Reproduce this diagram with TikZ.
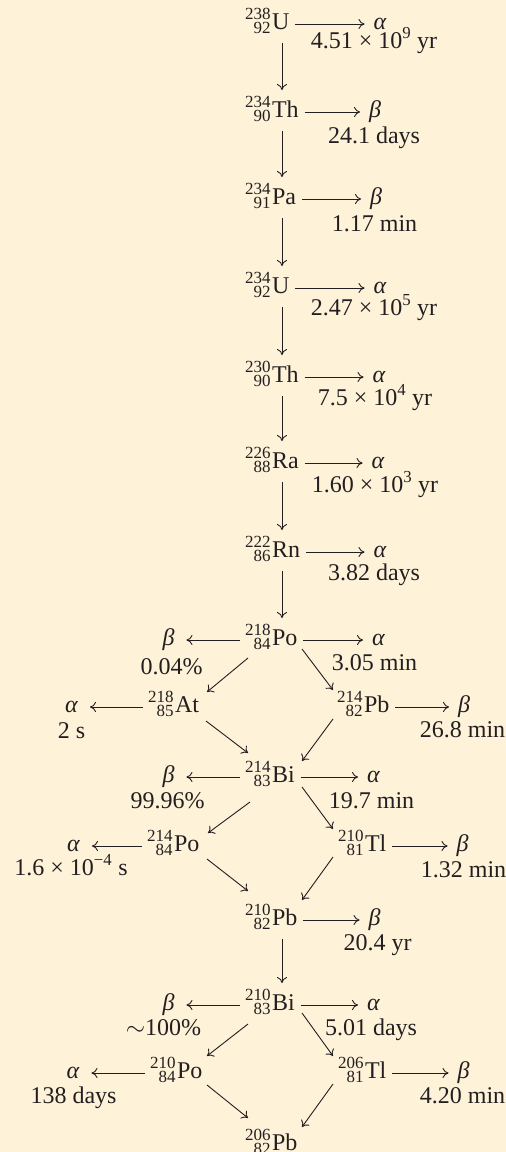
\documentclass[tikz,border=0pt]{standalone}
\usepackage{fontspec}
\setmainfont{Liberation Serif}
\usetikzlibrary{arrows.meta}
\definecolor{bg}{RGB}{254,242,217}
\definecolor{ink}{RGB}{35,31,32}
\newcommand{\nuc}[3]{%
  \setbox0=\hbox{\fontsize{17}{17}\selectfont #1}%
  \setbox2=\hbox{\fontsize{17}{17}\selectfont #2}%
  \dimen0=\ifdim\wd0>\wd2 \wd0\else\wd2\fi
  \hbox to\dimen0{\hss\raise9.5pt\box0}\kern-\dimen0
  \hbox to\dimen0{\hss\lower4.5pt\box2}\kern1.5pt #3}
\newcommand{\al}{\textit{α}}
\newcommand{\be}{\textit{β}}
\tikzset{
  every node/.style={font=\fontsize{24}{28}\selectfont, text=ink, inner sep=0pt, outer sep=0pt},
  nucl/.style={anchor=base west},
  sym/.style={anchor=base},
  lbl/.style={anchor=base},
  arr/.style={draw=ink, line width=0.9pt, -{Computer Modern Rightarrow[length=6pt,width=10pt]}}
}
\begin{document}
\begin{tikzpicture}[x=1pt,y=-1pt]
\useasboundingbox[fill=bg] (0,0) rectangle (506,1152);
% main chain nuclides
\node[nucl] (u238) at (245,29) {\nuc{238}{92}{U}};
\node[nucl] (th234) at (245,117) {\nuc{234}{90}{Th}};
\node[nucl] (pa234) at (245,204) {\nuc{234}{91}{Pa}};
\node[nucl] (u234) at (245,293) {\nuc{234}{92}{U}};
\node[nucl] (th230) at (245,382) {\nuc{230}{90}{Th}};
\node[nucl] (ra226) at (245,468) {\nuc{226}{88}{Ra}};
\node[nucl] (rn222) at (245,557) {\nuc{222}{86}{Rn}};
\node[nucl] (po218) at (245,645) {\nuc{218}{84}{Po}};
\node[nucl] (at218) at (148,712) {\nuc{218}{85}{At}};
\node[nucl] (pb214) at (337,712) {\nuc{214}{82}{Pb}};
\node[nucl] (bi214) at (245,782) {\nuc{214}{83}{Bi}};
\node[nucl] (po214) at (147,851) {\nuc{214}{84}{Po}};
\node[nucl] (tl210) at (338,851) {\nuc{210}{81}{Tl}};
\node[nucl] (pb210) at (245,925) {\nuc{210}{82}{Pb}};
\node[nucl] (bi210) at (245,1010) {\nuc{210}{83}{Bi}};
\node[nucl] (po210) at (150,1078) {\nuc{210}{84}{Po}};
\node[nucl] (tl206) at (338,1078) {\nuc{206}{81}{Tl}};
\node[nucl] (pb206) at (245,1150) {\nuc{206}{82}{Pb}};
% decay symbols (right side of main chain)
\node[sym] (u238d) at (380,29) {\al};
\node[sym] (th234d) at (375,117) {\be};
\node[sym] (pa234d) at (376,204) {\be};
\node[sym] (u234d) at (380,293) {\al};
\node[sym] (th230d) at (379,382) {\al};
\node[sym] (ra226d) at (378,468) {\al};
\node[sym] (rn222d) at (380,557) {\al};
\node[sym] (po218r) at (378.5,645) {\al};
\node[sym] (po218l) at (168.5,645) {\be};
\node[sym] (at218d) at (71.5,712) {\al};
\node[sym] (pb214d) at (464,712) {\be};
\node[sym] (bi214r) at (373.5,782) {\al};
\node[sym] (bi214l) at (168.5,782) {\be};
\node[sym] (po214d) at (73.5,851) {\al};
\node[sym] (tl210d) at (462.5,851) {\be};
\node[sym] (pb210d) at (374.5,925) {\be};
\node[sym] (bi210r) at (373.5,1010) {\al};
\node[sym] (bi210l) at (168.5,1010) {\be};
\node[sym] (po210d) at (73,1078) {\al};
\node[sym] (tl206d) at (463.5,1078) {\be};
% time / branching labels
\node[lbl] (u238t) at (374,48) {4.51 × 10\textsuperscript{9} yr};
\node[lbl] (th234t) at (374,143) {24.1 days};
\node[lbl] (pa234t) at (374.5,231) {1.17 min};
\node[lbl] (u234t) at (374,315) {2.47 × 10\textsuperscript{5} yr};
\node[lbl] (th230t) at (375,405) {7.5 × 10\textsuperscript{4} yr};
\node[lbl] (ra226t) at (375,492) {1.60 × 10\textsuperscript{3} yr};
\node[lbl] (rn222t) at (374,580) {3.82 days};
\node[lbl] (po218lt) at (171.5,674) {0.04\%};
\node[lbl] (po218rt) at (374.5,670) {3.05 min};
\node[lbl] (at218t) at (71.5,738) {2 s};
\node[lbl] (pb214t) at (462.5,737) {26.8 min};
\node[lbl] (bi214lt) at (167.5,808) {99.96\%};
\node[lbl] (bi214rt) at (371.5,808) {19.7 min};
\node[lbl] (po214t) at (71,875) {1.6 × 10\textsuperscript{−4} s};
\node[lbl] (tl210t) at (463.5,877) {1.32 min};
\node[lbl] (pb210t) at (377.5,950) {20.4 yr};
\node[lbl] (bi210lt) at (163.5,1035) {$\sim$100\%};
\node[lbl] (bi210rt) at (371,1035) {5.01 days};
\node[lbl] (po210t) at (73.5,1103) {138 days};
\node[lbl] (tl206t) at (462.5,1103) {4.20 min};
% vertical arrows
\foreach \a/\b in {u238/th234, th234/pa234, pa234/u234, u234/th230, th230/ra226, ra226/rn222, rn222/po218, pb210/bi210}
  \draw[arr] ([shift={(37,14)}]\a.base west) -- ([shift={(37,-27)}]\b.base west);
% right arrows
\foreach \a/\b in {u238/u238d, th234/th234d, pa234/pa234d, u234/u234d, th230/th230d, ra226/ra226d, rn222/rn222d, po218/po218r, pb214/pb214d, bi214/bi214r, tl210/tl210d, pb210/pb210d, bi210/bi210r, tl206/tl206d}
  \draw[arr] ([shift={(6,-5)}]\a.base east) -- ([shift={(-9,-5)}]\b.base west);
% left arrows
\foreach \a/\b in {po218/po218l, at218/at218d, bi214/bi214l, po214/po214d, bi210/bi210l, po210/po210d}
  \draw[arr] ([shift={(-5,-5)}]\a.base west) -- ([shift={(12,-5)}]\b.base east);
% diagonal arrows
\draw[arr] ([shift={(3,13)}]po218.base west) -- ([shift={(59,-20)}]at218.base west);
\draw[arr] ([shift={(57,4)}]po218.base west) -- ([shift={(-4,-22)}]pb214.base west);
\draw[arr] ([shift={(58,9)}]at218.base west) -- ([shift={(3,-29)}]bi214.base west);
\draw[arr] ([shift={(-4,7)}]pb214.base west) -- ([shift={(57,-21)}]bi214.base west);
\draw[arr] ([shift={(5,20)}]bi214.base west) -- ([shift={(61,-18)}]po214.base west);
\draw[arr] ([shift={(57,5)}]bi214.base west) -- ([shift={(-5,-22)}]tl210.base west);
\draw[arr] ([shift={(60,8)}]po214.base west) -- ([shift={(3,-34)}]pb210.base west);
\draw[arr] ([shift={(-5,6)}]tl210.base west) -- ([shift={(57,-25)}]pb210.base west);
\draw[arr] ([shift={(3,14)}]bi210.base west) -- ([shift={(57,-22)}]po210.base west);
\draw[arr] ([shift={(57,3)}]bi210.base west) -- ([shift={(-5,-22)}]tl206.base west);
\draw[arr] ([shift={(57,7)}]po210.base west) -- ([shift={(3,-32)}]pb206.base west);
\draw[arr] ([shift={(-5,6)}]tl206.base west) -- ([shift={(57,-23)}]pb206.base west);
\end{tikzpicture}
\end{document}
